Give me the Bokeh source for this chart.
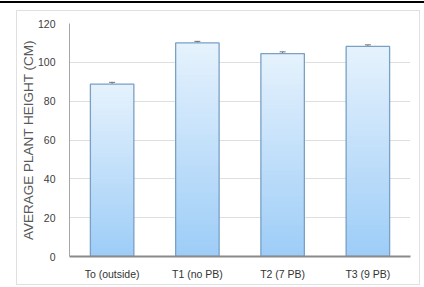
from bokeh.plotting import figure
from bokeh.models import ColumnDataSource, Whisker, FixedTicker, Div
from bokeh.layouts import column
from bokeh.embed import file_html
from bokeh.resources import INLINE

categories = ["To (outside)", "T1 (no PB)", "T2 (7 PB)", "T3 (9 PB)"]
heights = [88.8, 110.0, 104.5, 108.2]
errors = [0.9, 0.8, 0.9, 0.8]
y_ticks = [0, 20, 40, 60, 80, 100, 120]

FONT = "Liberation Sans"

p = figure(x_range=categories, y_range=(0, 120), width=402, height=273,
           output_backend="svg", toolbar_location=None,
           min_border_left=47, min_border_top=12, min_border_right=9, min_border_bottom=28)
p.outline_line_color = None

# gradient bars: stacked slices of each bar, light at top, darker at bottom
N = 40
top_c = (0xe6, 0xf2, 0xfd)
bot_c = (0x9d, 0xcd, 0xf7)
xs, bots, tops, cols = [], [], [], []
for c, h in zip(categories, heights):
    for i in range(N):
        f = (i + 0.5) / N
        rgb = tuple(int(round(b + (t - b) * f)) for b, t in zip(bot_c, top_c))
        xs.append(c)
        bots.append(h * i / N)
        tops.append(min(h, h * (i + 1.6) / N))
        cols.append("#%02x%02x%02x" % rgb)
p.vbar(x=xs, bottom=bots, top=tops, width=0.51, fill_color=cols, line_color=None)

src = ColumnDataSource(dict(x=categories, top=heights,
                            upper=[h + e for h, e in zip(heights, errors)],
                            lower=[h - e for h, e in zip(heights, errors)]))
p.vbar(x="x", top="top", width=0.51, source=src, fill_alpha=0,
       line_color="#7aa0c4", line_width=1.3)
w = Whisker(base="x", upper="upper", lower="lower", source=src,
            line_color="#707070", line_width=1)
w.upper_head.size = 6
w.lower_head.size = 6
w.upper_head.line_color = "#707070"
w.lower_head.line_color = "#707070"
p.add_layout(w)

p.yaxis.ticker = FixedTicker(ticks=y_ticks)
p.ygrid.grid_line_color = "#dedede"
p.xgrid.grid_line_color = None
p.yaxis.axis_label = "AVERAGE PLANT HEIGHT (CM)"
p.yaxis.axis_label_text_font = FONT
p.yaxis.axis_label_text_font_style = "normal"
p.yaxis.axis_label_text_font_size = "13.5px"
p.yaxis.axis_label_text_color = "#595959"
p.yaxis.axis_label_standoff = -1
p.yaxis.axis_line_color = "#a6a6a6"
p.yaxis.major_tick_line_color = None
p.yaxis.minor_tick_line_color = None
p.yaxis.major_label_text_font = FONT
p.yaxis.major_label_text_font_size = "10.5px"
p.yaxis.major_label_text_color = "#404040"
p.yaxis.major_label_standoff = 8

p.xaxis.axis_line_color = "#8a8a8a"
p.xaxis.axis_line_width = 2
p.xaxis.major_tick_line_color = None
p.xaxis.minor_tick_line_color = None
p.xaxis.major_label_text_font = FONT
p.xaxis.major_label_text_font_size = "10.5px"
p.xaxis.major_label_text_color = "#333333"
p.xaxis.major_label_standoff = 5

# decorations: black rule on top, light grey frame around the chart
rule = Div(text="", width=424, height=2, margin=(1, 0, 0, 0),
           styles={"background-color": "black"})
boxed = column(p, margin=(7, 0, 0, 16),
               styles={"border": "1px solid #e0e0e0"})
layout = column(rule, boxed, margin=(0, 0, 0, 0))

open("out.html", "w").write(file_html(layout, INLINE))
